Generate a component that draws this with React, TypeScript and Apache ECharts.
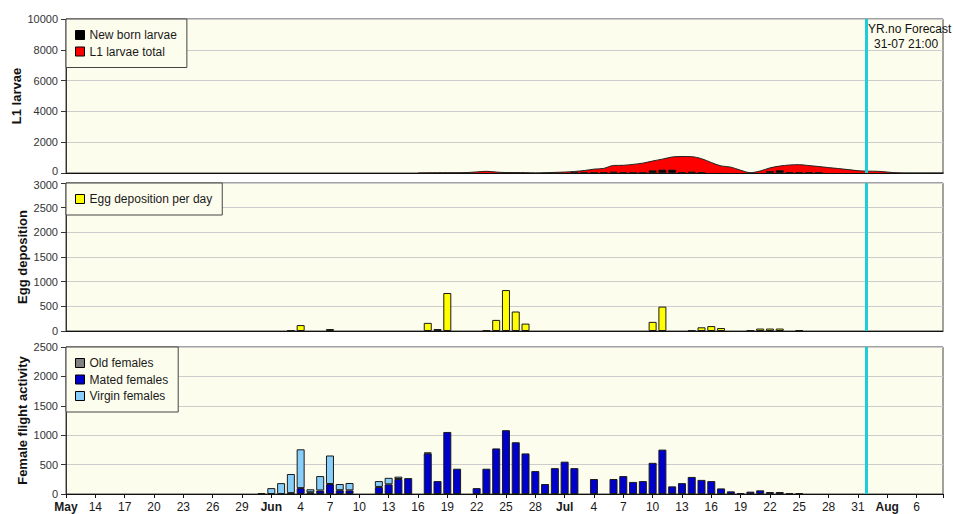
import React, { useEffect, useRef } from 'react';
import * as echarts from 'echarts';

const FONT = '"Liberation Sans", Arial, sans-serif';

// ---- axis / time frame ----
const startDate = '05-11';
const xMaxDays = 89.7;
const xTickLabels = ['May', '14', '17', '20', '23', '26', '29', 'Jun', '4', '7', '10', '13', '16', '19', '22', '25', '28', 'Jul', '4', '7', '10', '13', '16', '19', '22', '25', '28', '31', 'Aug', '6'];
const monthLabels = ['May', 'Jun', 'Jul', 'Aug'];
const forecastDate = '07-31';
const forecastHour = 21;
const forecastLines = ['YR.no Forecast', '31-07 21:00'];

// ---- L1 larvae panel ----
const l1Dates = ['06-16', '06-17', '06-18', '06-19', '06-20', '06-21', '06-22', '06-23', '06-24', '06-25', '06-26', '06-27', '06-28', '06-29', '06-30',
  '07-01', '07-02', '07-03', '07-04', '07-05', '07-06', '07-07', '07-08', '07-09', '07-10', '07-11', '07-12', '07-13', '07-14', '07-15', '07-16',
  '07-17', '07-18', '07-19', '07-20', '07-21', '07-22', '07-23', '07-24', '07-25', '07-26', '07-27', '07-28', '07-29', '07-30', '07-31',
  '08-01', '08-02', '08-03', '08-04', '08-05', '08-06', '08-07', '08-08', '08-09'];
const l1Total = [0, 10, 15, 20, 20, 30, 70, 110, 60, 30, 30, 20, 0, 20, 40,
  60, 100, 160, 250, 300, 490, 500, 560, 640, 780, 900, 1040, 1070, 1060, 930, 680,
  460, 380, 180, 20, 130, 330, 450, 520, 540, 480, 420, 350, 290, 220, 150,
  120, 110, 60, 10, 0, 0, 0, 0, 0];

const newBornDates = ['07-02', '07-03', '07-04', '07-05', '07-06', '07-07', '07-08', '07-09', '07-10', '07-11', '07-12', '07-13', '07-14', '07-15',
  '07-22', '07-23', '07-24', '07-25', '07-26', '07-27'];
const newBorn = [15, 25, 40, 45, 90, 40, 40, 40, 170, 220, 220, 40, 90, 40,
  120, 180, 45, 45, 45, 40];

// ---- Egg deposition panel ----
const eggDates = ['06-03', '06-04', '06-07', '06-17', '06-18', '06-19', '06-23', '06-24', '06-25', '06-26', '06-27',
  '07-10', '07-11', '07-14', '07-15', '07-16', '07-17', '07-20', '07-21', '07-22', '07-23', '07-25'];
const eggDeposition = [10, 120, 40, 165, 40, 770, 10, 225, 830, 395, 150,
  185, 495, 10, 75, 100, 60, 10, 50, 50, 50, 15];

// ---- Female flight activity panel ----
const flightDates = ['05-31', '06-01', '06-02', '06-03', '06-04', '06-05', '06-06', '06-07', '06-08', '06-09',
  '06-12', '06-13', '06-14', '06-15', '06-17', '06-18', '06-19', '06-20', '06-22', '06-23', '06-24', '06-25',
  '06-26', '06-27', '06-28', '06-29', '06-30', '07-01', '07-02', '07-04', '07-06', '07-07', '07-08', '07-09',
  '07-10', '07-11', '07-12', '07-13', '07-14', '07-15', '07-16', '07-17', '07-18', '07-19', '07-20', '07-21',
  '07-22', '07-23', '07-24', '07-25'];
const matedFemales = [15, 0, 0, 15, 100, 30, 60, 170, 65, 62,
  120, 165, 255, 270, 690, 220, 1055, 430, 100, 430, 775, 1085,
  880, 690, 390, 170, 440, 550, 440, 255, 255, 305, 205, 220,
  530, 755, 130, 185, 290, 240, 220, 95, 45, 17, 40, 62,
  34, 34, 17, 17];
const virginFemales = [0, 100, 185, 325, 660, 50, 245, 485, 105, 125,
  100, 110, 40, 0, 15, 0, 0, 0, 0, 0, 0, 0,
  0, 0, 0, 0, 0, 0, 0, 0, 0, 0, 0, 0,
  0, 0, 0, 0, 0, 0, 0, 0, 0, 0, 0, 0,
  0, 0, 0, 0];
const oldFemales = [0, 0, 0, 0, 0, 0, 0, 0, 0, 0,
  0, 0, 0, 0, 0, 0, 0, 0, 0, 0, 0, 0,
  0, 0, 0, 0, 0, 0, 0, 0, 0, 0, 0, 0,
  0, 0, 0, 0, 0, 0, 0, 0, 0, 0, 0, 0,
  0, 0, 0, 0];

// ---- helpers ----
function dayIndex(md: string): number {
  const [m0, d0] = startDate.split('-').map(Number);
  const [m, d] = md.split('-').map(Number);
  return Math.round((Date.UTC(2000, m - 1, d) - Date.UTC(2000, m0 - 1, d0)) / 86400000);
}
const pairs = (dates: string[], vals: number[], skipZero: boolean) =>
  dates.map((dt, i) => [dayIndex(dt), skipZero && !vals[i] ? null : vals[i]]);
// value first, so that ECharts stacks the value dimension (not the x dimension) on a value x-axis
const stackPairs = (dates: string[], vals: number[]) =>
  dates.map((dt, i) => [!vals[i] ? null : vals[i], dayIndex(dt)]);

const COLORS = {
  plotBg: '#FDFDEE',
  border: '#444444',
  grid: '#CDCDCD',
  red: '#FF0000',
  black: '#000000',
  yellow: '#FFFF00',
  mated: '#0000CC',
  virgin: '#87CEFA',
  old: '#808080',
  cyan: '#1CCDDA',
  text: '#1A1A1A',
};

export default function App() {
  const ref = useRef<HTMLDivElement>(null);

  useEffect(() => {
    if (!ref.current) return;
    const chart = echarts.init(ref.current, null, { renderer: 'svg' });
    const forecastX = dayIndex(forecastDate) + forecastHour / 24;

    const grids = [
      { top: 19, height: 154 },
      { top: 183, height: 148 },
      { top: 347, height: 147 },
    ].map((g) => ({
      left: 66, right: 11, top: g.top, height: g.height, show: true,
      backgroundColor: COLORS.plotBg, borderColor: COLORS.border, borderWidth: 1,
    }));

    const xFormatter = (v: number) => {
      const i = Math.round(v / 3);
      if (Math.abs(v - i * 3) > 1e-6) return '';
      const t = xTickLabels[i];
      if (t === undefined) return '';
      return monthLabels.includes(t) ? `{m|${t}}` : t;
    };

    const xAxes = [0, 1, 2].map((gi) => ({
      type: 'value', gridIndex: gi, min: 0, max: xMaxDays, interval: 3,
      axisLine: { show: true, onZero: false, lineStyle: { color: '#111', width: 1 } },
      axisTick: { show: gi === 2, length: 4, lineStyle: { color: '#111' } },
      axisLabel: {
        show: gi === 2, formatter: xFormatter, margin: 7, fontSize: 12, color: COLORS.text, fontFamily: FONT,
        rich: { m: { fontWeight: 'bold', fontSize: 12, color: COLORS.text, fontFamily: FONT } },
      },
      splitLine: { show: false },
    }));

    const yDefs = [
      { max: 10000, interval: 2000 },
      { max: 3000, interval: 500 },
      { max: 2500, interval: 500 },
    ];
    const yAxes = yDefs.map((d, gi) => ({
      type: 'value', gridIndex: gi, min: 0, max: d.max, interval: d.interval,
      axisLine: { show: true, lineStyle: { color: '#333' } },
      axisTick: { show: true, length: 5, lineStyle: { color: '#333' } },
      axisLabel: {
        fontSize: 11, color: '#333', margin: 8, fontFamily: FONT,
        formatter: (v: number) => {
          // nudge the touching labels between panels apart a little
          if (gi === 0 && v === 0) return '{lo|0}';
          if (gi === 1 && v === d.max) return `{hi|${v}}`;
          return String(v);
        },
        rich: {
          lo: { fontSize: 11, color: '#333', fontFamily: FONT, padding: [0, 0, 4, 0] },
          hi: { fontSize: 11, color: '#333', fontFamily: FONT, padding: [3, 0, 0, 0] },
        },
      },
      splitLine: { show: true, lineStyle: { color: COLORS.grid, width: 1 } },
    }));

    const markLine = {
      silent: true, symbol: 'none', animation: false,
      label: { show: false },
      lineStyle: { color: COLORS.cyan, width: 3, type: 'solid' },
      emphasis: { disabled: true },
      data: [{ xAxis: forecastX }],
    };

    const barBase = {
      type: 'bar', barWidth: 8, z: 3,
      itemStyle: { borderColor: '#1a1a1a', borderWidth: 1 },
      emphasis: { disabled: true },
    };

    const legendBase = {
      orient: 'vertical', left: 66, icon: 'rect', itemWidth: 9, itemHeight: 9, itemGap: 4.5,
      padding: [10, 10, 10, 9], backgroundColor: COLORS.plotBg, borderColor: COLORS.border, borderWidth: 1,
      selectedMode: false,
      textStyle: { fontSize: 12, color: COLORS.text, fontFamily: FONT },
    };
    const lItem = (name: string, color: string) => ({
      name, icon: 'rect', itemStyle: { color, borderColor: '#000', borderWidth: 1 },
    });

    const titles = [
      { text: 'L1 larvae', x: 16, y: 96 },
      { text: 'Egg deposition', x: 22, y: 257 },
      { text: 'Female flight activity', x: 22, y: 420.5 },
    ];

    chart.setOption({
      animation: false,
      textStyle: { fontFamily: FONT },
      grid: grids,
      xAxis: xAxes,
      yAxis: yAxes,
      legend: [
        { ...legendBase, top: 19, data: [lItem('New born larvae', COLORS.black), lItem('L1 larvae total', COLORS.red)] },
        { ...legendBase, top: 183, data: [lItem('Egg deposition per day', COLORS.yellow)] },
        { ...legendBase, top: 347, data: [lItem('Old females', COLORS.old), lItem('Mated females', COLORS.mated), lItem('Virgin females', COLORS.virgin)] },
      ],
      graphic: [
        ...titles.map((t) => ({
          type: 'text', x: t.x, y: t.y, rotation: Math.PI / 2, silent: true,
          style: {
            text: t.text, fill: '#111', font: `bold 13px ${FONT}`,
            textAlign: 'center', textVerticalAlign: 'middle', align: 'center', verticalAlign: 'middle',
          },
        })),
        { type: 'text', left: 868, top: 23, silent: true, style: { text: forecastLines[0], fill: '#111', font: `12px ${FONT}` } },
        { type: 'text', left: 874, top: 38, silent: true, style: { text: forecastLines[1], fill: '#111', font: `12px ${FONT}` } },
      ],
      series: [
        {
          type: 'line', name: 'L1 larvae total', xAxisIndex: 0, yAxisIndex: 0, z: 2,
          data: pairs(l1Dates, l1Total, false), symbol: 'none', smooth: 0.3,
          color: COLORS.red, lineStyle: { color: '#222', width: 1 },
          areaStyle: { color: COLORS.red, opacity: 1 },
          emphasis: { disabled: true },
        },
        {
          ...barBase, name: 'New born larvae', xAxisIndex: 0, yAxisIndex: 0,
          data: pairs(newBornDates, newBorn, true), color: COLORS.black,
          markLine,
        },
        {
          ...barBase, name: 'Egg deposition per day', xAxisIndex: 1, yAxisIndex: 1,
          data: pairs(eggDates, eggDeposition, true), color: COLORS.yellow,
          markLine,
        },
        {
          ...barBase, name: 'Mated females', xAxisIndex: 2, yAxisIndex: 2, stack: 'females',
          encode: { x: 1, y: 0 },
          data: stackPairs(flightDates, matedFemales), color: COLORS.mated,
          markLine,
        },
        {
          ...barBase, name: 'Virgin females', xAxisIndex: 2, yAxisIndex: 2, stack: 'females',
          encode: { x: 1, y: 0 },
          data: stackPairs(flightDates, virginFemales), color: COLORS.virgin,
        },
        {
          ...barBase, name: 'Old females', xAxisIndex: 2, yAxisIndex: 2, stack: 'females',
          encode: { x: 1, y: 0 },
          data: stackPairs(flightDates, oldFemales), color: COLORS.old,
        },
      ],
    });

    return () => chart.dispose();
  }, []);

  return <div ref={ref} style={{ position: 'absolute', left: 0, top: 0, width: 954, height: 514 }} />;
}
